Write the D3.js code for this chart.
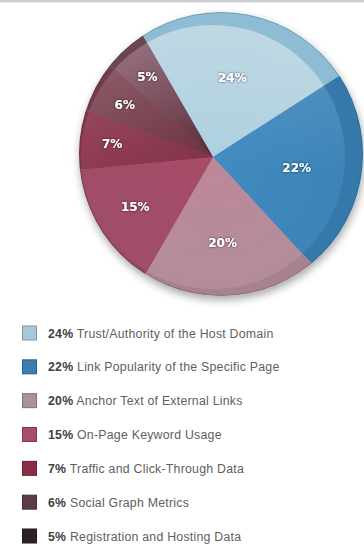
<!DOCTYPE html>
<html>
<head>
<meta charset="utf-8">
<script src="https://cdn.jsdelivr.net/npm/d3@7"></script>
<style>
  html, body { margin: 0; padding: 0; background: #fff; }
  svg { display: block; }
</style>
</head>
<body>
<svg id="chart" width="364" height="548"></svg>
<script>
// Ranking factor shares
const categories = [
  "Trust/Authority of the Host Domain",
  "Link Popularity of the Specific Page",
  "Anchor Text of External Links",
  "On-Page Keyword Usage",
  "Traffic and Click-Through Data",
  "Social Graph Metrics",
  "Registration and Hosting Data"
];
const shares = [24, 22, 20, 15, 7, 6, 5];
const pctLabels = shares.map(v => v + "%");

// Slice palette: inner (near centre) and outer tones of each wedge, rim tones, legend swatches
const innerColors  = ["#acd0e1", "#3f8bc1", "#bd8898", "#a64b67", "#83304a", "#6d2f3f", "#5a2835"];
const outerColors  = ["#b5d1df", "#3d84b8", "#b38d9b", "#a04d67", "#8f3b51", "#7d4755", "#85596a"];
const rimColors    = ["#8dbcd3", "#3679ab", "#a7818f", "#934460", "#83344a", "#6f3d4a", "#6c4552"];
const swatchColors = ["#a9c7d8", "#3b7fb0", "#a8939c", "#a64e69", "#8a2e47", "#5e3c47", "#2c2026"];

const svg = d3.select("#chart");
const W = 364;

// thin grey rule across the top
svg.append("rect").attr("x", 0).attr("y", 0).attr("width", W).attr("height", 2).attr("fill", "#cfcfcf");
svg.append("rect").attr("x", 0).attr("y", 2).attr("width", W).attr("height", 1).attr("fill", "#e8e8e8");

const defs = svg.append("defs");

// pie geometry: wedge apex, face radius, and the raised rim circle behind it
const cx = 213, cy = 157, faceR = 132;
const rimDx = 8, rimDy = -3, rimR = 142;

const shadow = defs.append("filter").attr("id", "pieShadow")
  .attr("x", "-20%").attr("y", "-20%").attr("width", "140%").attr("height", "140%");
shadow.append("feDropShadow").attr("dx", 1).attr("dy", 4).attr("stdDeviation", 4)
  .attr("flood-color", "#000").attr("flood-opacity", 0.35);

const txtShadow = defs.append("filter").attr("id", "txtShadow")
  .attr("x", "-30%").attr("y", "-30%").attr("width", "160%").attr("height", "160%");
txtShadow.append("feDropShadow").attr("dx", 0).attr("dy", 0).attr("stdDeviation", 0.9)
  .attr("flood-color", "#000").attr("flood-opacity", 0.75);

defs.append("clipPath").attr("id", "rimClip")
  .append("circle").attr("cx", rimDx).attr("cy", rimDy).attr("r", rimR);

shares.forEach((v, i) => {
  const g = defs.append("radialGradient").attr("id", "face" + i)
    .attr("gradientUnits", "userSpaceOnUse").attr("cx", 0).attr("cy", 0).attr("r", faceR);
  g.append("stop").attr("offset", "0%").attr("stop-color", innerColors[i]);
  g.append("stop").attr("offset", "100%").attr("stop-color", outerColors[i]);
});

const gloss = defs.append("linearGradient").attr("id", "gloss")
  .attr("x1", 0).attr("y1", 0).attr("x2", 0).attr("y2", 1);
gloss.append("stop").attr("offset", "0%").attr("stop-color", "#fff").attr("stop-opacity", 0.14);
gloss.append("stop").attr("offset", "55%").attr("stop-color", "#fff").attr("stop-opacity", 0);

const pie = d3.pie().sort(null).value(d => d)
  .startAngle(-Math.PI / 6).endAngle(-Math.PI / 6 + 2 * Math.PI);
const arcs = pie(shares);

const pieG = svg.append("g").attr("transform", `translate(${cx},${cy})`);

// rim: wedges extended past the face and clipped to the offset rim circle
const rimArc = d3.arc().innerRadius(0).outerRadius(rimR + 30);
const rimG = pieG.append("g").attr("filter", "url(#pieShadow)");
const rimInner = rimG.append("g").attr("clip-path", "url(#rimClip)");
rimInner.selectAll("path").data(arcs).join("path")
  .attr("d", rimArc)
  .attr("fill", (d, i) => rimColors[i]);
rimInner.append("circle").attr("cx", rimDx).attr("cy", rimDy).attr("r", rimR - 0.5)
  .attr("fill", "none").attr("stroke", "#1d3f55").attr("stroke-opacity", 0.25).attr("stroke-width", 1);

// face of the pie
const faceArc = d3.arc().innerRadius(0).outerRadius(faceR);
pieG.append("g").selectAll("path").data(arcs).join("path")
  .attr("d", faceArc)
  .attr("fill", (d, i) => `url(#face${i})`);

pieG.append("circle").attr("r", faceR).attr("fill", "url(#gloss)");

// percentage labels on the wedges; small wedges get their label further out
const labelR = d3.scaleLinear().domain([5, 24]).range([104, 82]).clamp(true);
pieG.append("g").selectAll("text").data(arcs).join("text")
  .attr("transform", d => {
    const a = (d.startAngle + d.endAngle) / 2;
    const r = labelR(d.data);
    return `translate(${Math.sin(a) * r},${-Math.cos(a) * r})`;
  })
  .attr("text-anchor", "middle")
  .attr("dy", "0.36em")
  .attr("fill", "#fff")
  .attr("font-family", "DejaVu Sans, sans-serif")
  .attr("font-weight", "bold")
  .attr("font-size", 12)
  .attr("filter", "url(#txtShadow)")
  .text((d, i) => pctLabels[i]);

// legend
const legendY = d3.scalePoint().domain(d3.range(categories.length)).range([333, 536]);
const legend = svg.append("g");
const rows = legend.selectAll("g").data(categories).join("g")
  .attr("transform", (d, i) => `translate(0,${legendY(i)})`);
rows.append("rect")
  .attr("x", 22.5).attr("y", -7).attr("width", 14).attr("height", 14)
  .attr("fill", (d, i) => swatchColors[i])
  .attr("stroke", (d, i) => d3.color(swatchColors[i]).darker(0.8))
  .attr("stroke-width", 1);
const lt = rows.append("text")
  .attr("x", 48).attr("y", 4.5)
  .attr("font-family", "Liberation Sans, Arial, sans-serif")
  .attr("font-size", 12.3)
  .attr("letter-spacing", 0.25);
lt.append("tspan").attr("font-weight", "bold").attr("fill", "#404040")
  .text((d, i) => pctLabels[i]);
lt.append("tspan").attr("fill", "#606060").text(d => " " + d);
</script>
</body>
</html>
